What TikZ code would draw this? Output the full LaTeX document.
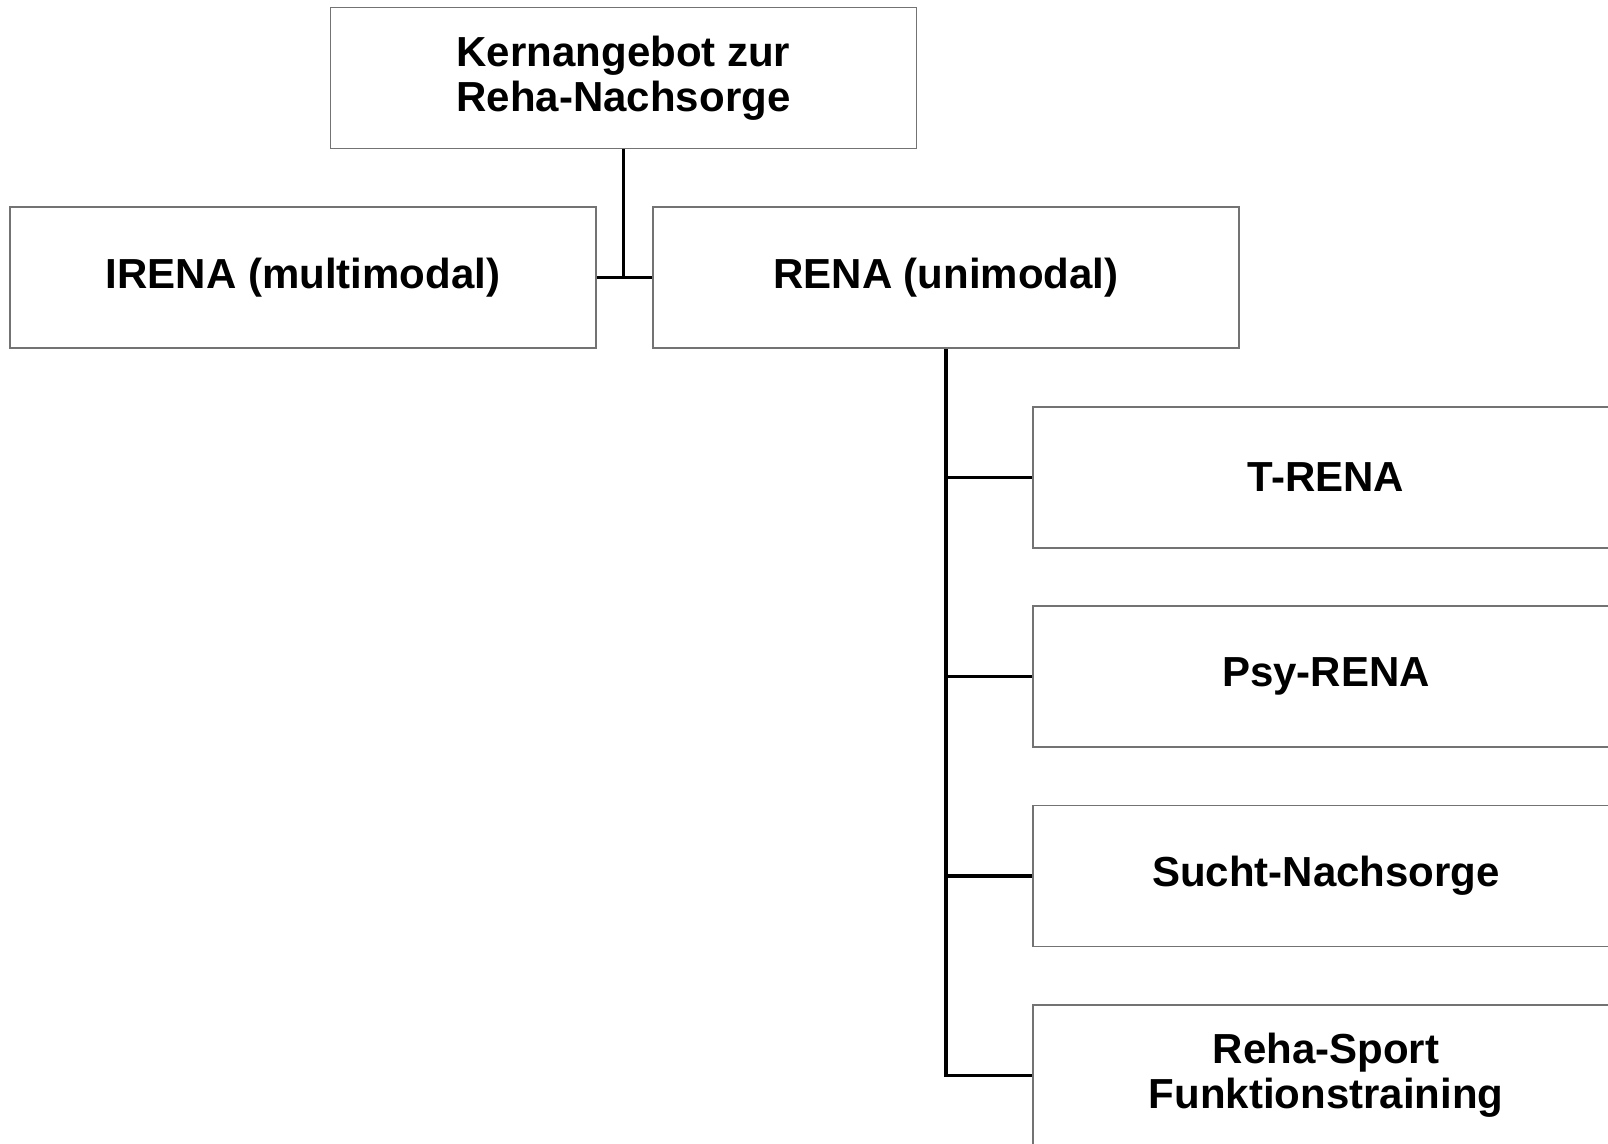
\documentclass[tikz,border=0pt]{standalone}
\usepackage{fontspec}
\setmainfont{Liberation Sans}
\begin{document}
\begin{tikzpicture}[x=1pt,y=-1pt,
  box/.style={draw=black!55, line width=1.6pt, fill=white, minimum width=586pt, minimum height=141pt,
    inner sep=0pt, align=center, font=\fontsize{42}{45}\selectfont\bfseries},
  conn/.style={line width=3.2pt, black}]
\useasboundingbox (0,0) rectangle (1608,1143);
\clip (0,0) rectangle (1608,1143);
\fill[white] (0,0) rectangle (1608,1143);
\node[box] (top) at (623.5,78) {Kernangebot zur\\Reha-Nachsorge};
\node[box] (irena) at (303,277.5) {IRENA (multimodal)};
\node[box] (rena) at (946,277.5) {RENA (unimodal)};
\node[box] (trena) at (1326,477.5) {T-RENA};
\node[box] (psy) at (1326,676.5) {Psy-RENA};
\node[box] (sucht) at (1326,876) {Sucht-Nachsorge};
\node[box] (sport) at (1326,1075.5) {Reha-Sport\\Funktionstraining};
\draw[conn] (irena.east) -- (rena.west);
\draw[conn] (top.south) -- (top.south |- irena.east);
\draw[conn] (rena.south) -- (rena.south |- sport.west) -- (sport.west);
\draw[conn] (rena.south |- trena.west) -- (trena.west);
\draw[conn] (rena.south |- psy.west) -- (psy.west);
\draw[conn] (rena.south |- sucht.west) -- (sucht.west);
\end{tikzpicture}
\end{document}
